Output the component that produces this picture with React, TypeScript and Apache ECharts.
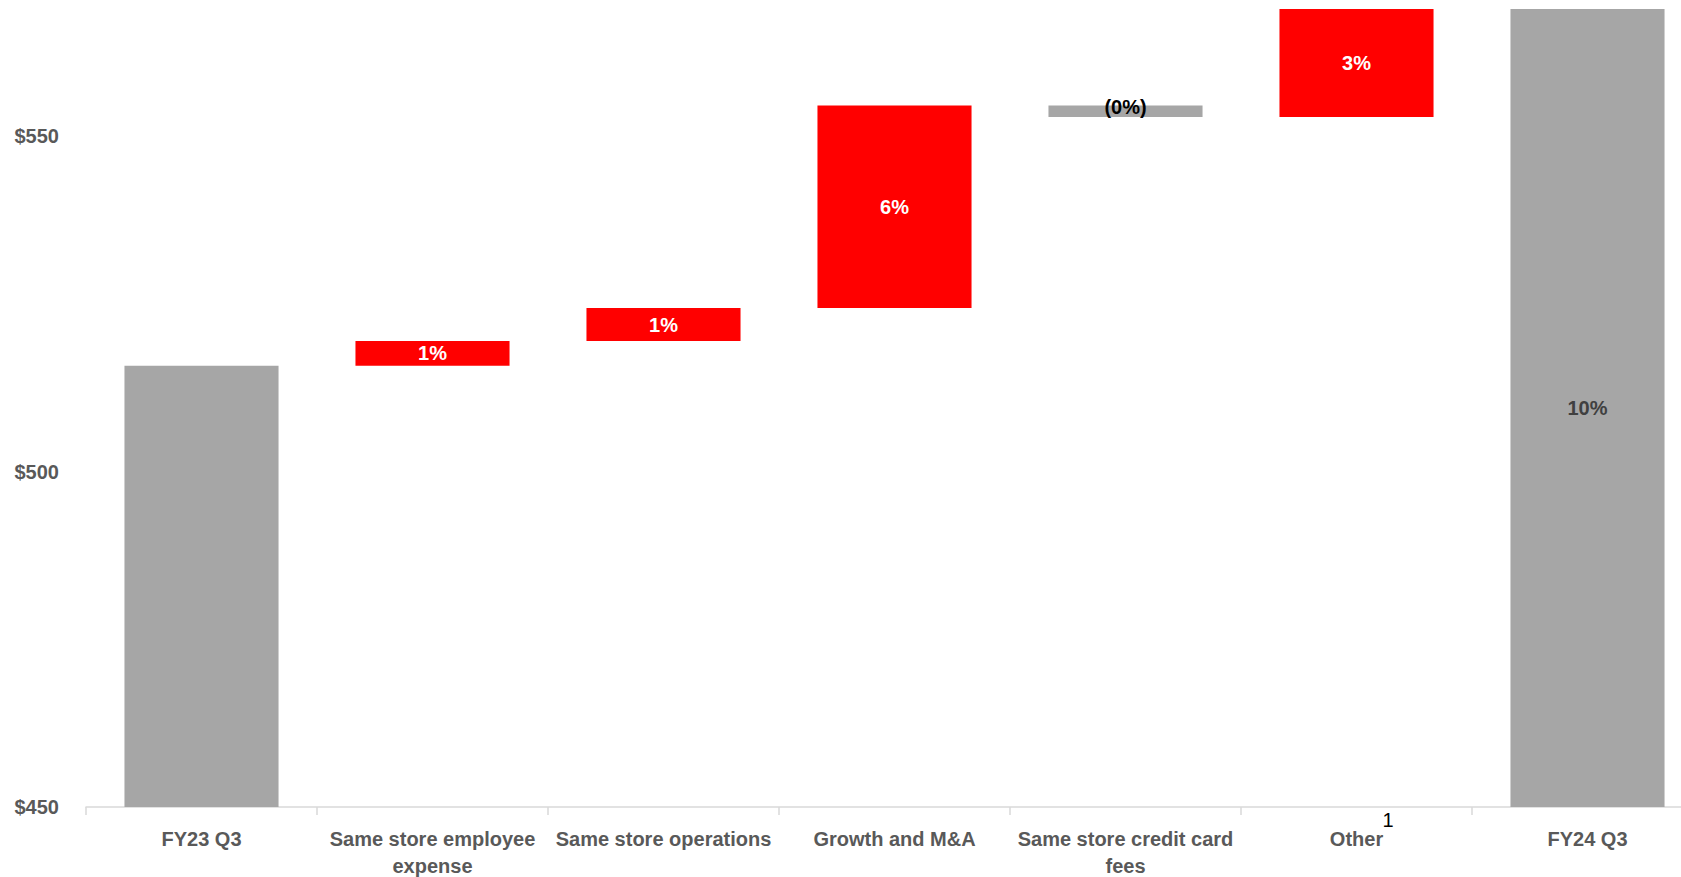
import React, { useEffect, useRef } from "react";
import * as echarts from "echarts";

const categories = [
  "FY23 Q3",
  "Same store employee\nexpense",
  "Same store operations",
  "Growth and M&A",
  "Same store credit card\nfees",
  "Other",
  "FY24 Q3",
];
const footnotes = ["", "", "", "", "", "1", ""];
const startValue = 515.8;
const changes = [3.7, 4.9, 30.2, -1.7, 16.1];
const endValue = 569.0;
const pctLabels = ["", "1%", "1%", "6%", "(0%)", "3%", "10%"];
const yTicks = [450, 500, 550];

const RED = "#FF0000";
const GRAY = "#A6A6A6";
const FONT = "'Liberation Sans Narrow', 'Arial Narrow', 'Liberation Sans', Arial, sans-serif";
const FS = 20;

export default function App() {
  const ref = useRef<HTMLDivElement>(null);
  useEffect(() => {
    document.body.style.margin = "0";
    if (!ref.current) return;
    const chart = echarts.init(ref.current, undefined, { renderer: "svg" });

    const base: number[] = [0];
    const vals: any[] = [];
    let run = startValue;
    vals.push({
      value: startValue,
      itemStyle: { color: GRAY },
      label: { show: false },
    });
    changes.forEach((c, i) => {
      const lo = c >= 0 ? run : run + c;
      base.push(lo);
      const isNeg = c < 0;
      vals.push({
        value: Math.abs(c),
        itemStyle: { color: isNeg ? GRAY : RED },
        label: {
          show: true,
          formatter: pctLabels[i + 1],
          color: isNeg ? "#000000" : "#FFFFFF",
          offset: isNeg ? [0, -4] : [0, 0],
        },
      });
      run += c;
    });
    base.push(0);
    vals.push({
      value: endValue,
      itemStyle: { color: GRAY },
      label: { show: true, formatter: pctLabels[6], color: "#404040" },
    });

    chart.setOption({
      animation: false,
      grid: {
        left: 86,
        right: -22,
        top: 9,
        bottom: 70,
        containLabel: false,
        outerBoundsMode: "none",
      },
      xAxis: [
        {
          type: "category",
          data: categories,
          axisLine: { lineStyle: { color: "#D9D9D9", width: 1.5 } },
          axisTick: { show: true, length: 8, lineStyle: { color: "#D9D9D9", width: 1.5 } },
          axisLabel: {
            interval: 0,
            margin: 18,
            color: "#595959",
            fontFamily: FONT,
            fontWeight: "bold",
            fontSize: FS,
            lineHeight: 27,
          },
        },
        {
          type: "category",
          data: categories,
          position: "bottom",
          axisLine: { show: false },
          axisTick: { show: false },
          axisLabel: {
            interval: 0,
            margin: 3,
            color: "#000000",
            fontFamily: FONT,
            fontWeight: "normal",
            fontSize: FS,
            lineHeight: 20,
            padding: [0, 0, 0, 63],
            formatter: (_v: string, i: number) => footnotes[i],
          },
        },
      ],
      yAxis: {
        type: "value",
        min: 450,
        max: endValue,
        interval: 50,
        axisLine: { show: false },
        axisTick: { show: false },
        splitLine: { show: false },
        axisLabel: {
          margin: 27,
          color: "#595959",
          fontFamily: FONT,
          fontWeight: "bold",
          fontSize: FS,
          formatter: (v: number) => (yTicks.includes(v) ? "$" + v : ""),
        },
      },
      series: [
        {
          type: "bar",
          stack: "w",
          data: base,
          itemStyle: { color: "transparent" },
          barWidth: "66.7%",
          silent: true,
        },
        {
          type: "bar",
          stack: "w",
          data: vals,
          barWidth: "66.7%",
          label: {
            show: true,
            position: "inside",
            fontFamily: FONT,
            fontWeight: "bold",
            fontSize: FS,
          },
        },
      ],
    });
    return () => chart.dispose();
  }, []);
  return <div ref={ref} style={{ width: 1681, height: 877 }} />;
}
